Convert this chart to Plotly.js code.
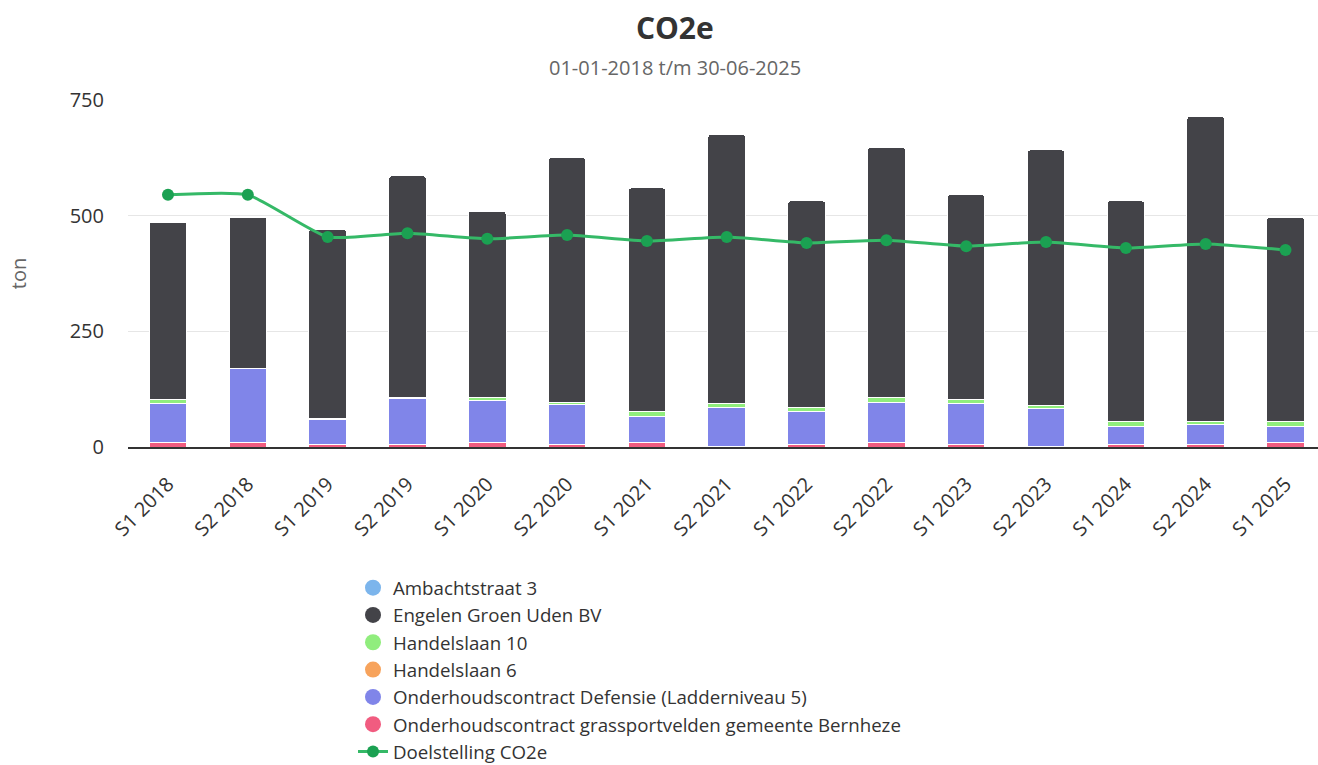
<!DOCTYPE html>
<html>
<head>
<meta charset="utf-8">
<script src="https://cdn.plot.ly/plotly-3.0.1.min.js"></script>
<style>html,body{margin:0;padding:0;background:#fff;}#chart{width:1318px;height:765px;}</style>
</head>
<body>
<div id="chart"></div>
<script>
const categories = ["S1 2018","S2 2018","S1 2019","S2 2019","S1 2020","S2 2020","S1 2021","S2 2021","S1 2022","S2 2022","S1 2023","S2 2023","S1 2024","S2 2024","S1 2025"];
const bernheze   = [10,10,5,5,10,5,10,2,5,10,5,2,5,5,10];
const defensie   = [84,159,55,99,91,86,56,84,71,87,88,81,40,43,35];
const handelslaan10 = [8,1,2,4,6,5,10,8,9,10,9,6,10,8,10];
const handelslaan6  = [0,0,0,0,0,0,0,0,0,0,0,0,0,0,0];
const ambachtstraat = [0,0,0,0,0,0,0,0,0,0,0,0,0,0,0];
const engelen    = [384,327,409,478,403,529,484,582,447,541,443,553,477,659,442];
const doelstelling = [545,545,454,462,450,458,445,454,441,447,434,443,430,439,426];
const tickValues = [0,250,500,750];

const seriesNames = ["Ambachtstraat 3","Engelen Groen Uden BV","Handelslaan 10","Handelslaan 6","Onderhoudscontract Defensie (Ladderniveau 5)","Onderhoudscontract grassportvelden gemeente Bernheze"];
const seriesColors = ["#7cb5ec","#434348","#90ed7d","#f7a35c","#8085e9","#f15c80"];

function bar(name, y, color){
  return {type:'bar', name:name, x:categories, y:y, showlegend:false,
    marker:{color:color, line:{color:'#ffffff', width:1}}, hoverinfo:'x+y+name'};
}
const traces = [
  bar(seriesNames[5], bernheze, seriesColors[5]),
  bar(seriesNames[4], defensie, seriesColors[4]),
  bar(seriesNames[3], handelslaan6, seriesColors[3]),
  bar(seriesNames[2], handelslaan10, seriesColors[2]),
  bar(seriesNames[0], ambachtstraat, seriesColors[0]),
  bar(seriesNames[1], engelen, seriesColors[1])
];
// legend entries (circle symbols)
seriesNames.forEach((n,i)=>{
  traces.push({type:'scatter', mode:'markers', name:n, x:[categories[0]], y:[null],
    marker:{color:seriesColors[i], size:16, symbol:'circle'}, showlegend:true, hoverinfo:'skip'});
});
traces.push({type:'scatter', mode:'lines+markers', name:'Doelstelling CO2e', x:categories, y:doelstelling,
  line:{color:'#35b967', width:3, shape:'spline', smoothing:0.5},
  marker:{color:'#1ba152', size:12}, showlegend:true});

const font = "'Open Sans', sans-serif";
const layout = {
  width:1318, height:765,
  margin:{l:128, r:0, t:100, b:318, autoexpand:false},
  paper_bgcolor:'#fff', plot_bgcolor:'#fff',
  font:{family:font, color:'#333'},
  barmode:'stack', bargap:0.53, barcornerradius:3,
  title:{text:'<b>CO2e</b>', font:{family:font, size:30, color:'#333'}, x:0.512, xanchor:'center', xref:'container', y:1-28/765, yanchor:'middle', yref:'container'},
  annotations:[{text:'01-01-2018 t/m 30-06-2025', xref:'paper', yref:'paper', x:(675-128)/1190, y:(447-67)/347, xanchor:'center', yanchor:'middle', showarrow:false, font:{family:font, size:20, color:'#666'}}],
  xaxis:{type:'category', range:[-0.501, 14.407], tickangle:-45, tickfont:{size:20, color:'#333'}, ticklabelstandoff:16, showgrid:false, zeroline:false, showline:true, linecolor:'#333', linewidth:1.5, ticks:'', automargin:false},
  yaxis:{range:[0,750], tickvals:tickValues, ticktext:tickValues.map(String), tickfont:{size:20, color:'#333'}, gridcolor:'#e6e6e6', gridwidth:1, zeroline:false, showline:false, ticks:'', ticklabelstandoff:23, automargin:false,
    title:{text:'ton', font:{size:20, color:'#666'}, standoff:37}},
  legend:{orientation:'v', x:(353-128)/1190, xanchor:'left', y:(447-569)/347, yanchor:'top', font:{size:18.7, color:'#333', family:font}, traceorder:'normal', bgcolor:'rgba(0,0,0,0)'},
  showlegend:true
};
Plotly.newPlot('chart', traces, layout, {displayModeBar:false, staticPlot:true});
</script>
</body>
</html>
